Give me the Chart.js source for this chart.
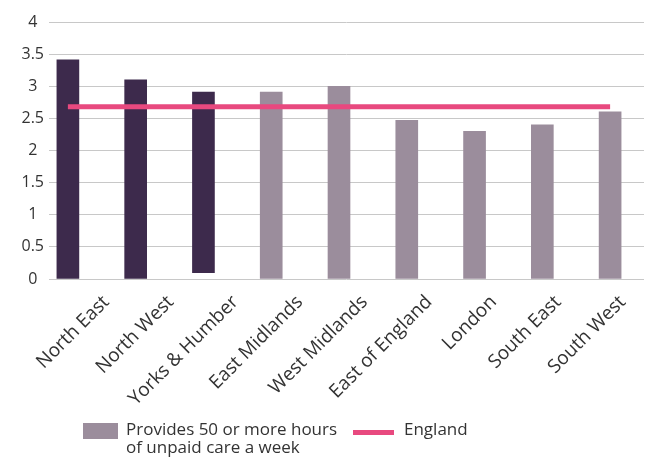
<!DOCTYPE html>
<html>
<head>
<meta charset="utf-8">
<script src="https://cdn.jsdelivr.net/npm/chart.js@4.4.1/dist/chart.umd.min.js"></script>
<style>
  html, body { margin: 0; padding: 0; background: #fff; }
  #wrap { position: relative; width: 651px; height: 459px; }
  #legend { font-family: "Open Sans", sans-serif; font-size: 17px; color: #333; }
  #legend .swatch { position: absolute; left: 83px; top: 423px; width: 35px; height: 16px; background: #9b8d9c; }
  #legend .label1 { position: absolute; left: 126px; top: 420px; line-height: 18px; }
  #legend .line { position: absolute; left: 353px; top: 430px; width: 41px; height: 5px; background: #e8497f; }
  #legend .label2 { position: absolute; left: 404px; top: 420px; line-height: 18px; }
</style>
</head>
<body>
<div id="wrap">
  <canvas id="chart" width="651" height="459"></canvas>
  <div id="legend">
    <span class="swatch"></span>
    <span class="label1">Provides 50 or more hours<br>of unpaid care a week</span>
    <span class="line"></span>
    <span class="label2">England</span>
  </div>
</div>
<script>
// values
const regions = ['North East', 'North West', 'Yorks & Humber', 'East Midlands', 'West Midlands',
  'East of England', 'London', 'South East', 'South West'];
const careValues = [3.41, 3.10, 2.91, 2.91, 3.00, 2.47, 2.30, 2.40, 2.60];
const careStarts = [0, 0, 0.1, 0, 0, 0, 0, 0, 0];
const englandValue = 2.68;

const darkPurple = '#3d2a4c';
const greyPurple = '#9b8d9c';
const pink = '#e8497f';
const textColour = '#333333';

// bars and labels sit a bit off the category centres in the original,
// so the x scale is stretched once for the marks and once for the labels
const shiftAxis = {
  id: 'shiftAxis',
  afterLayout(chart) {
    const x = chart.scales.x;
    const area = chart.chartArea;
    x.left = area.left - 15;
    x.right = area.right;
    x.width = x.right - x.left;
    x.configure();
  },
  beforeDraw(chart) {
    const x = chart.scales.x;
    const area = chart.chartArea;
    x.left = area.left + 25;
    x.right = x.left + 581;
    x.width = 581;
    x.configure();
    x._labelItems = null;
  }
};

new Chart(document.getElementById('chart'), {
  data: {
    labels: regions,
    datasets: [
      {
        type: 'line',
        label: 'England',
        data: regions.map(() => englandValue),
        borderColor: pink,
        borderWidth: 5,
        pointRadius: 0,
        clip: false,
        order: 0
      },
      {
        type: 'bar',
        label: 'Provides 50 or more hours of unpaid care a week',
        data: careValues.map((v, i) => [careStarts[i], v]),
        backgroundColor: ctx => ctx.dataIndex < 3 ? darkPurple : greyPurple,
        barThickness: 22,
        clip: false,
        order: 1
      }
    ]
  },
  options: {
    responsive: false,
    animation: false,
    layout: { padding: { top: 22, right: 7, left: 0, bottom: 0 } },
    plugins: {
      legend: { display: false },
      tooltip: { enabled: false }
    },
    scales: {
      x: {
        grid: { display: false },
        border: { display: false },
        ticks: {
          color: textColour,
          font: { family: 'Open Sans', size: 19 },
          minRotation: 45,
          maxRotation: 45,
          autoSkip: false,
          padding: 4
        },
        afterFit: s => { s.height = 180; }
      },
      y: {
        min: 0,
        max: 4,
        grid: { color: '#c8c8c8', lineWidth: 1, drawTicks: false },
        border: { display: false },
        ticks: {
          stepSize: 0.5,
          color: textColour,
          font: { family: 'Open Sans', size: 16 },
          crossAlign: 'center',
          padding: 5,
          callback: v => String(v)
        },
        afterFit: s => { s.width = 49; }
      }
    }
  },
  plugins: [shiftAxis]
});
</script>
</body>
</html>
